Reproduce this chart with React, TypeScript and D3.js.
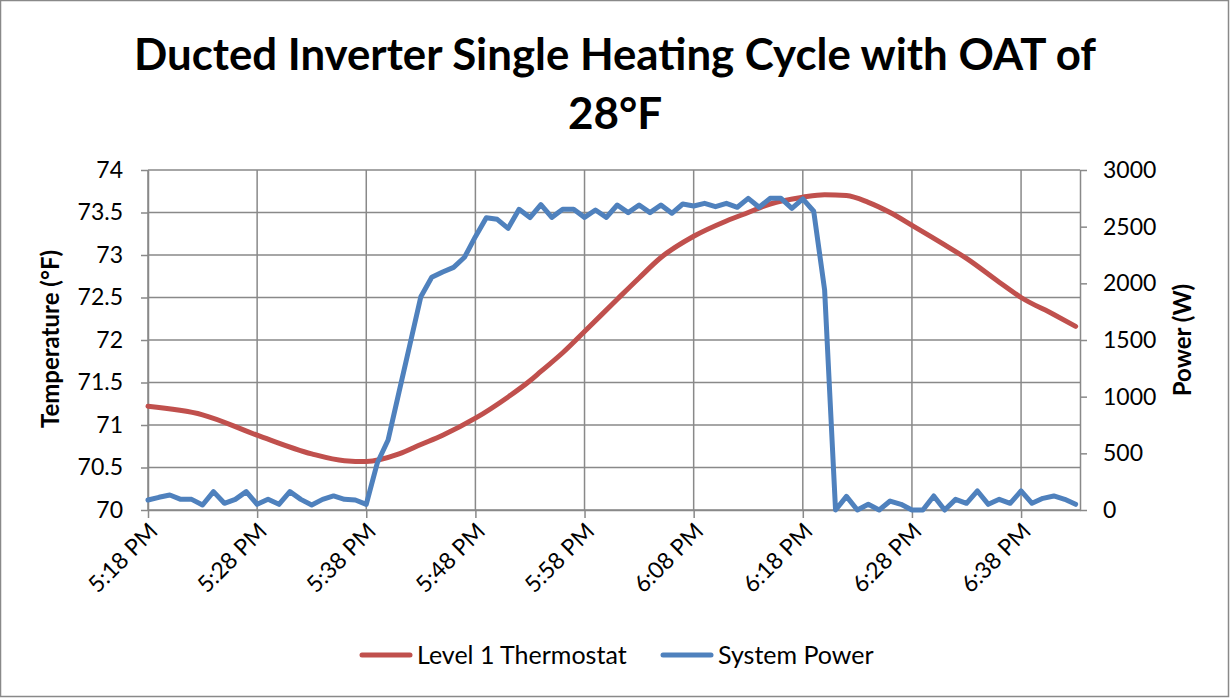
import { useEffect, useRef } from 'react';
import * as d3 from 'd3';

// x labels, one every 10 minutes starting at 5:18 PM
const timeLabels = ['5:18 PM', '5:28 PM', '5:38 PM', '5:48 PM', '5:58 PM', '6:08 PM', '6:18 PM', '6:28 PM', '6:38 PM'];

// System Power (W), one reading per minute from 5:18 PM
const powerW = [
  88, 112, 132, 94, 94, 44, 162, 59, 94, 162,
  50, 94, 50, 162, 94, 44, 94, 124, 94, 88,
  50, 412, 618, 1040, 1460, 1882, 2053, 2100, 2141, 2230,
  2412, 2579, 2565, 2485, 2653, 2580, 2695, 2582, 2653, 2653,
  2582, 2647, 2582, 2691, 2624, 2691, 2624, 2691, 2618, 2700,
  2682, 2706, 2676, 2706, 2671, 2750, 2671, 2750, 2750, 2662,
  2745, 2636, 1941, 0, 120, 0, 50, 0, 79, 50,
  0, 0, 124, 0, 94, 59, 168, 50, 94, 59,
  168, 59, 103, 124, 94, 50,
];

// Level 1 Thermostat (°F), read at these minutes after 5:18 PM
const tempMinutes = [0, 5, 10, 15, 18, 20, 23, 25, 27, 30, 33, 35, 36, 38, 40, 43, 45, 47, 50, 53, 55, 57, 60, 62, 64, 66, 68, 70, 73, 75, 78, 80, 83, 85];
const tempF = [71.22, 71.12, 70.88, 70.66, 70.58, 70.57, 70.66, 70.77, 70.88, 71.08, 71.33, 71.52, 71.63, 71.85, 72.1, 72.48, 72.73, 72.97, 73.22, 73.4, 73.5, 73.6, 73.68, 73.71, 73.7, 73.62, 73.5, 73.35, 73.12, 72.96, 72.68, 72.5, 72.3, 72.16];

const RED = '#C0504D';
const BLUE = '#4F81BD';
const GRID = '#898989';
const FONT = 'Lato, "Open Sans", sans-serif';

export default function App() {
  const ref = useRef<SVGSVGElement | null>(null);

  useEffect(() => {
    const svg = d3.select(ref.current);
    svg.selectAll('*').remove();

    const left = 148, right = 1080, top = 170, bottom = 510;

    const x = d3.scaleLinear().domain([0, 85.4]).range([left, right]);
    const yT = d3.scaleLinear().domain([70, 74]).range([bottom, top]);
    const yP = d3.scaleLinear().domain([0, 3000]).range([bottom, top]);

    svg.append('rect')
      .attr('x', 0.5).attr('y', 0.5).attr('width', 1228).attr('height', 696)
      .attr('fill', '#fff').attr('stroke', GRID).attr('stroke-width', 1.5);

    // title
    const title = svg.append('g').attr('font-family', FONT).attr('font-weight', 700).attr('text-anchor', 'middle');
    title.append('text').attr('x', 615).attr('y', 70).attr('font-size', 44)
      .attr('textLength', 962).attr('lengthAdjust', 'spacingAndGlyphs')
      .text('Ducted Inverter Single Heating Cycle with OAT of');
    title.append('text').attr('x', 615).attr('y', 129).attr('font-size', 44)
      .text('28°F');

    // gridlines
    const tempTicks = yT.ticks(8);
    const xTicks = timeLabels.map((_, i) => i * 10);
    svg.append('g').selectAll('line.h').data(tempTicks).join('line')
      .attr('x1', left).attr('x2', right)
      .attr('y1', d => yT(d)).attr('y2', d => yT(d))
      .attr('stroke', GRID).attr('stroke-width', 1.5);
    svg.append('g').selectAll('line.v').data(xTicks).join('line')
      .attr('x1', d => x(d)).attr('x2', d => x(d))
      .attr('y1', top).attr('y2', bottom)
      .attr('stroke', GRID).attr('stroke-width', 1.5);

    const styleAxis = (g: any) => {
      g.select('.domain').attr('stroke', GRID).attr('stroke-width', 1.5);
      g.selectAll('.tick line').attr('stroke', GRID).attr('stroke-width', 1.5);
      g.selectAll('text').attr('fill', '#000').attr('font-size', 23).attr('font-family', FONT);
    };

    // left axis
    svg.append('g')
      .attr('transform', `translate(${left},0)`)
      .call(d3.axisLeft(yT).tickValues(tempTicks).tickSize(7).tickSizeOuter(0).tickPadding(18).tickFormat(d3.format('~g')))
      .call(styleAxis);

    // right axis
    svg.append('g')
      .attr('transform', `translate(${right},0)`)
      .call(d3.axisRight(yP).tickValues(d3.range(0, 3001, 500)).tickSize(7).tickSizeOuter(0).tickPadding(16).tickFormat(d3.format('d')))
      .call(styleAxis);

    // bottom axis
    const xa = svg.append('g')
      .attr('transform', `translate(0,${bottom})`)
      .call(d3.axisBottom(x).tickValues(xTicks).tickSize(8).tickSizeOuter(0).tickFormat((_, i) => timeLabels[i]))
      .call(styleAxis);
    xa.selectAll('.tick text')
      .attr('text-anchor', 'end')
      .attr('x', 0).attr('y', 0).attr('dy', '0.35em')
      .attr('transform', 'translate(5,17) rotate(-45)');

    // axis titles
    svg.append('text')
      .attr('transform', 'translate(59,339) rotate(-90)')
      .attr('text-anchor', 'middle').attr('font-family', FONT).attr('font-weight', 700).attr('font-size', 24)
      .text('Temperature (°F)');
    svg.append('text')
      .attr('transform', 'translate(1191,340) rotate(-90)')
      .attr('text-anchor', 'middle').attr('font-family', FONT).attr('font-weight', 700).attr('font-size', 24)
      .text('Power (W)');

    // temperature line
    const tempLine = d3.line<number>()
      .x((_, i) => x(tempMinutes[i]))
      .y(d => yT(d))
      .curve(d3.curveMonotoneX);
    svg.append('path')
      .datum(tempF)
      .attr('fill', 'none').attr('stroke', RED).attr('stroke-width', 5)
      .attr('stroke-linecap', 'round')
      .attr('d', tempLine);

    // power line
    const powerLine = d3.line<number>()
      .x((_, i) => x(i))
      .y(d => yP(d));
    svg.append('path')
      .datum(powerW)
      .attr('fill', 'none').attr('stroke', BLUE).attr('stroke-width', 5)
      .attr('stroke-linejoin', 'round').attr('stroke-linecap', 'round')
      .attr('d', powerLine);

    // legend
    const legend = [
      { name: 'Level 1 Thermostat', color: RED, x: 362 },
      { name: 'System Power', color: BLUE, x: 663 },
    ];
    const lg = svg.append('g').attr('font-family', FONT).attr('font-size', 25);
    legend.forEach(l => {
      lg.append('line')
        .attr('x1', l.x).attr('x2', l.x + 48).attr('y1', 655).attr('y2', 655)
        .attr('stroke', l.color).attr('stroke-width', 5).attr('stroke-linecap', 'round');
      lg.append('text').attr('x', l.x + 55).attr('y', 655).attr('dy', '0.35em').text(l.name);
    });
  }, []);

  return (
    <div style={{ position: 'absolute', left: 0, top: 0 }}>
      <svg ref={ref} width={1230} height={698} style={{ display: 'block' }} />
    </div>
  );
}
